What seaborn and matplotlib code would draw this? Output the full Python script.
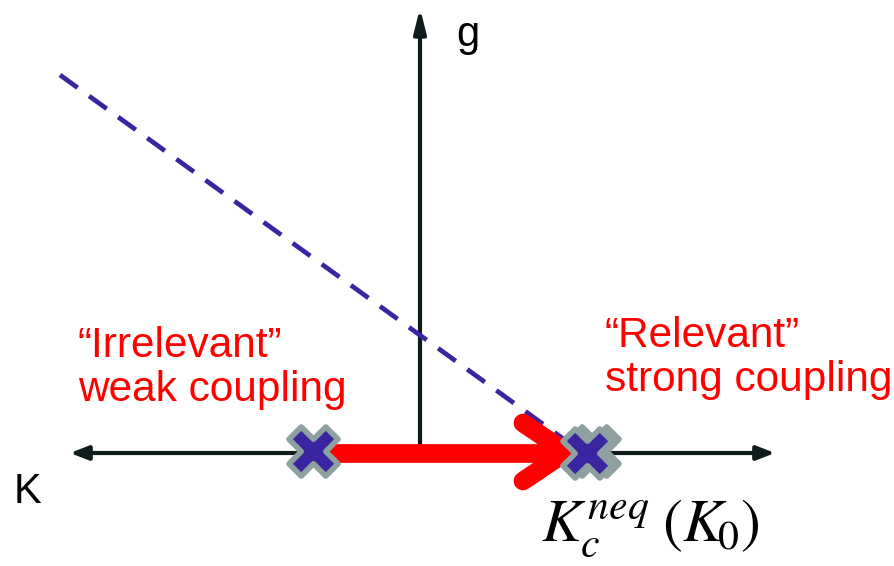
import matplotlib
matplotlib.use("Agg")
import matplotlib.pyplot as plt
import seaborn as sns
import pandas as pd

sns.set_theme(style="white")
plt.rcParams['font.family'] = ['Liberation Sans', 'DejaVu Sans']
plt.rcParams['mathtext.fontset'] = 'stix'

# schematic data (pixel-like coordinates of the flow diagram)
k_axis_x = [70, 775]
axis_y = 453
g_axis_top = 8
g_axis_x = 420
dash_x = [60, 565]
dash_y = [75, 440]
fixed_x = [313, 587]
fixed_y = [451, 453]
ghost_x = [594]
ghost_y = [451]
flow_x = [330, 560]
chevron_x = [523, 566, 523]
chevron_y = [423, 452, 481]

ink = '#101c1c'
blue = '#3a25a0'
red = '#ff0000'
gray = '#8fa0a0'

fig = plt.figure(figsize=(8.95, 5.66), dpi=100)
ax = fig.add_axes([0, 0, 1, 1])
ax.set_xlim(0, 895)
ax.set_ylim(566, 0)
ax.axis('off')

# K axis (both directions) and g axis
ax.annotate('', xy=(k_axis_x[0], axis_y), xytext=(k_axis_x[1], axis_y),
            arrowprops=dict(arrowstyle='<|-|>,head_length=0.9,head_width=0.35',
                            color=ink, lw=3, shrinkA=0, shrinkB=0), zorder=1)
ax.annotate('', xy=(g_axis_x, g_axis_top), xytext=(g_axis_x, axis_y),
            arrowprops=dict(arrowstyle='-|>,head_length=1.2,head_width=0.3',
                            color=ink, lw=3, shrinkA=0, shrinkB=0), zorder=1)

# dashed separatrix
dash_df = pd.DataFrame({'x': dash_x, 'y': dash_y})
sns.lineplot(data=dash_df, x='x', y='y', ax=ax, color=blue, lw=3.4,
             linestyle=(0, (4.6, 3)), sort=False, zorder=2)

# red RG flow arrow
ax.plot(flow_x, [axis_y, axis_y], color=red, lw=13.5, solid_capstyle='butt',
        zorder=4)
ax.plot(chevron_x, chevron_y, color=red, lw=13.5, solid_capstyle='round',
        solid_joinstyle='round', zorder=4)

# fixed points
ghost_df = pd.DataFrame({'x': ghost_x, 'y': ghost_y})
sns.scatterplot(data=ghost_df, x='x', y='y', ax=ax, marker='X', s=1250,
                color=gray, edgecolor=gray, linewidth=4, zorder=5)
fp_df = pd.DataFrame({'x': fixed_x, 'y': fixed_y})
sns.scatterplot(data=fp_df, x='x', y='y', ax=ax, marker='X', s=1250,
                color=blue, edgecolor=gray, linewidth=4, zorder=6)
ax.set_xlabel('')
ax.set_ylabel('')

# labels
ax.text(456, 35, 'g', fontsize=30, color='black', va='center', ha='left')
ax.text(14, 492, 'K', fontsize=30, color='black', va='center', ha='left')
ax.text(78, 368, '\u201cIrrelevant\u201d\nweak coupling', fontsize=30.5, color=red,
        va='center', ha='left', linespacing=1.12)
ax.text(605, 358, '\u201cRelevant\u201d\nstrong coupling', fontsize=30.5, color=red,
        va='center', ha='left', linespacing=1.12)
ax.text(541, 528, r'$K_c^{neq}\;(K_{\!0})$', fontsize=43, color='black',
        va='center', ha='left')

fig.savefig('out.png', dpi=100)
